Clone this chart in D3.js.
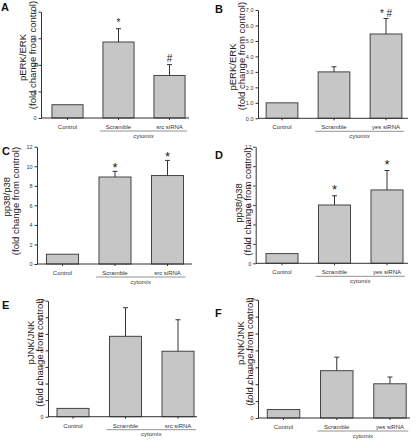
<!DOCTYPE html>
<html><head><meta charset="utf-8">
<script src="https://cdn.jsdelivr.net/npm/d3@7"></script>
<style>
body{margin:0;background:#fff}
svg{display:block;font-family:"Liberation Sans",Arial,sans-serif}
.ttl{font-family:"Liberation Sans Narrow","Arial Narrow","Liberation Sans",sans-serif}
</style>
</head><body>
<svg id="c" width="418" height="440"></svg>
<script>
// ---------- data ----------
const catsSrc = ["Control", "Scramble", "src siRNA"];
const catsYes = ["Control", "Scramble", "yes siRNA"];
const groupLabel = "cytomix";

const erkSrcMean = [1.0, 5.72, 3.2];
const erkSrcSem  = [0, 1.0, 0.82];
const erkYesMean = [1.0, 3.0, 5.45];
const erkYesSem  = [0, 0.33, 1.0];
const p38SrcMean = [1.0, 8.9, 9.05];
const p38SrcSem  = [0, 0.58, 1.55];
const p38YesMean = [1.0, 6.0, 7.55];
const p38YesSem  = [0, 0.95, 2.0];
const jnkSrcMean = [1.0, 9.7, 7.9];
const jnkSrcSem  = [0, 3.45, 3.8];
const jnkYesMean = [1.0, 5.6, 4.05];
const jnkYesSem  = [0, 1.6, 0.8];

const ticksA = [0, 2, 4, 6, 8];
const ticksB = [0, 1, 2, 3, 4, 5, 6, 7];
const ticks12 = [0, 2, 4, 6, 8, 10, 12];
const ticks14 = [0, 2, 4, 6, 8, 10, 12, 14];

const marksA = ["", "*", "#"];
const marksB = ["", "", "* #"];
const marksC = ["", "*", "*"];
const marksD = ["", "*", "*"];
const marksNone = ["", "", ""];

const titleERK = "pERK/ERK";
const titleP38 = "pp38/p38";
const titleJNK = "pJNK/JNK";
const titleSub = "(fold change from control)";

// ---------- panels (data refs + layout) ----------
const panels = [
  {letter:"A", cats:catsSrc, mean:erkSrcMean, sem:erkSrcSem, ticks:ticksA, marks:marksA, t1:titleERK,
   L:{ax:41, y0:118, yT:11.7, band:[42,195], axEnd:189, lx:1, ly:11, t1x:23, t1y:57.5, t2x:33, t2y:55, mfs:10, moff:3}},
  {letter:"B", cats:catsYes, mean:erkYesMean, sem:erkYesSem, ticks:ticksB, marks:marksB, t1:titleERK,
   L:{ax:258, y0:118.3, yT:10, band:[256,412], axEnd:408, lx:215, ly:13, t1x:233, t1y:67, t2x:241.5, t2y:56, mfs:10, moff:1.5}},
  {letter:"C", cats:catsSrc, mean:p38SrcMean, sem:p38SrcSem, ticks:ticks12, marks:marksC, t1:titleP38,
   L:{ax:37, y0:264, yT:146.7, band:[36.25,193.75], axEnd:192, lx:2, ly:155, t1x:7, t1y:196.7, t2x:16, t2y:201, mfs:13, moff:-0.5}},
  {letter:"D", cats:catsYes, mean:p38YesMean, sem:p38YesSem, ticks:ticks12, marks:marksD, t1:titleP38,
   L:{ax:255.7, y0:263.3, yT:146.7, band:[255.75,413.25], axEnd:408, lx:215, ly:159, t1x:238.5, t1y:203, t2x:247.5, t2y:201.5, mfs:13, moff:1.5}},
  {letter:"E", cats:catsSrc, mean:jnkSrcMean, sem:jnkSrcSem, ticks:ticks14, marks:marksNone, t1:titleJNK,
   L:{ax:48, y0:416.7, yT:300.7, band:[46.75,204.25], axEnd:197, lx:2, ly:309, t1x:30.5, t1y:342.5, t2x:39.5, t2y:352.5, mfs:10, moff:2}},
  {letter:"F", cats:catsYes, mean:jnkYesMean, sem:jnkYesSem, ticks:ticks14, marks:marksNone, t1:titleJNK,
   L:{ax:258, y0:418, yT:299.7, band:[256.9,416.6], axEnd:410, lx:215, ly:317, t1x:240.5, t1y:343, t2x:249.5, t2y:351.5, mfs:10, moff:2}}
];

const svg = d3.select("#c");
const axisCol = "#333";

panels.forEach(p => {
  const L = p.L;
  const g = svg.append("g");
  const yMax = p.ticks[p.ticks.length - 1];
  const y = d3.scaleLinear().domain([0, yMax]).range([L.y0, L.yT]);
  const x = d3.scaleBand().domain(p.cats).range(L.band).paddingInner(0.39).paddingOuter(0.195);
  const rows = p.cats.map((c, i) => ({c, m:p.mean[i], s:p.sem[i], mark:p.marks[i]}));

  // bars
  g.selectAll("rect.bar").data(rows).join("rect")
    .attr("x", d => x(d.c)).attr("width", x.bandwidth())
    .attr("y", d => y(d.m)).attr("height", d => L.y0 - y(d.m))
    .attr("fill", "#c6c6c6").attr("stroke", "#444").attr("stroke-width", 1);

  // error bars
  const eb = rows.filter(d => d.s > 0);
  g.selectAll("line.eb").data(eb).join("line")
    .attr("x1", d => x(d.c) + x.bandwidth()/2).attr("x2", d => x(d.c) + x.bandwidth()/2)
    .attr("y1", d => y(d.m)).attr("y2", d => y(d.m + d.s))
    .attr("stroke", "#333").attr("stroke-width", 1);
  g.selectAll("line.cap").data(eb).join("line")
    .attr("x1", d => x(d.c) + x.bandwidth()/2 - 2.5).attr("x2", d => x(d.c) + x.bandwidth()/2 + 2.5)
    .attr("y1", d => y(d.m + d.s)).attr("y2", d => y(d.m + d.s))
    .attr("stroke", "#333").attr("stroke-width", 1);

  // significance marks
  g.selectAll("text.mk").data(rows.filter(d => d.mark)).join("text")
    .attr("x", d => x(d.c) + x.bandwidth()/2)
    .attr("y", d => y(d.m + d.s) - L.moff)
    .attr("text-anchor", "middle").attr("font-size", L.mfs).attr("fill", "#222")
    .text(d => d.mark);

  // y axis
  const yAxis = d3.axisLeft(y).tickValues(p.ticks).tickSize(2.5).tickPadding(2).tickSizeOuter(0);
  const ya = g.append("g").attr("transform", `translate(${L.ax},0)`).call(yAxis);
  ya.select(".domain").attr("stroke", axisCol);
  ya.selectAll(".tick line").attr("stroke", axisCol);
  ya.selectAll(".tick text").attr("font-size", 5.5).attr("fill", "#333").attr("font-family", '"Liberation Sans",Arial,sans-serif');

  // x axis line
  g.append("line").attr("x1", L.ax).attr("x2", L.axEnd).attr("y1", L.y0).attr("y2", L.y0)
    .attr("stroke", axisCol).attr("stroke-width", 1);
  // x ticks at bar centres
  g.selectAll("line.xt").data(p.cats).join("line")
    .attr("x1", c => x(c) + x.bandwidth()/2).attr("x2", c => x(c) + x.bandwidth()/2)
    .attr("y1", L.y0).attr("y2", L.y0 + 2).attr("stroke", axisCol);
  // category labels
  g.selectAll("text.cat").data(p.cats).join("text")
    .attr("x", c => x(c) + x.bandwidth()/2).attr("y", L.y0 + 11)
    .attr("text-anchor", "middle").attr("font-size", 6).attr("fill", "#333").text(c => c);
  // group underline + label
  const ux1 = x(p.cats[1]) - 3, ux2 = x(p.cats[2]) + x.bandwidth() + 2;
  g.append("line").attr("x1", ux1).attr("x2", ux2).attr("y1", L.y0 + 13).attr("y2", L.y0 + 13)
    .attr("stroke", "#777").attr("stroke-width", 0.8);
  g.append("text").attr("x", (ux1 + ux2)/2).attr("y", L.y0 + 19.5)
    .attr("text-anchor", "middle").attr("font-size", 6).attr("fill", "#333").text(groupLabel);

  // y titles
  g.append("text").attr("class", "ttl").attr("transform", `translate(${L.t1x},${L.t1y}) rotate(-90)`)
    .attr("dy", "0.35em").attr("text-anchor", "middle").attr("font-size", 9.5).attr("fill", "#222")
    .text(p.t1);
  g.append("text").attr("class", "ttl").attr("transform", `translate(${L.t2x},${L.t2y}) rotate(-90)`)
    .attr("dy", "0.35em").attr("text-anchor", "middle").attr("font-size", 9.5).attr("fill", "#222")
    .text(titleSub);

  // panel letter
  g.append("text").attr("x", L.lx).attr("y", L.ly).attr("font-size", 11).attr("font-weight", "bold")
    .attr("fill", "#111").text(p.letter);
});
</script>
</body></html>
